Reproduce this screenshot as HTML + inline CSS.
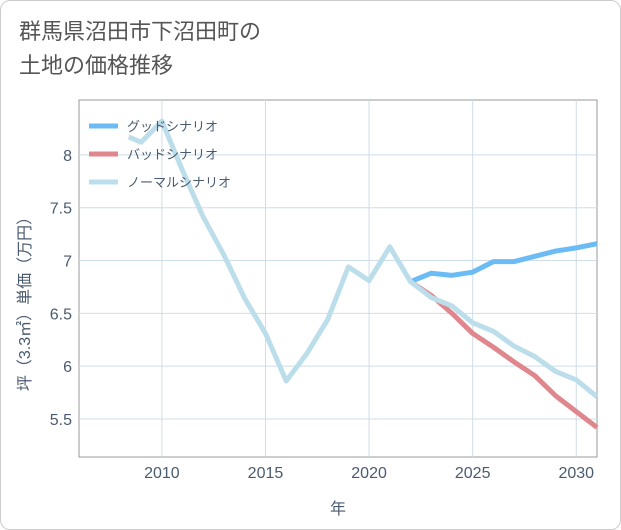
<!DOCTYPE html>
<html><head><meta charset="utf-8"><style>
body{margin:0;background:#fff;font-family:"Liberation Sans","Noto Sans CJK JP",sans-serif;}
#wrap{position:relative;width:619px;height:528px;border:1px solid #ccc;border-radius:10px;overflow:hidden;}
#title{position:absolute;left:18px;top:14px;font-size:22px;line-height:34px;color:#555;}
</style></head><body>
<div id="wrap">
<div id="title">群馬県沼田市下沼田町の<br>土地の価格推移</div>
<svg id="chart" width="621" height="530" style="position:absolute;left:-1px;top:-1px"></svg>
</div>
<script>
const years=[2008.4,2009,2010,2011,2012,2013,2014,2015,2016,2017,2018,2019,2020,2021,2022,2023,2024,2025,2026,2027,2028,2029,2030,2031];
const normal=[8.17,8.12,8.32,7.85,7.41,7.05,6.64,6.31,5.86,6.12,6.44,6.94,6.81,7.13,6.8,6.65,6.57,6.41,6.33,6.19,6.09,5.95,5.87,5.71];
const futureYears=[2022,2023,2024,2025,2026,2027,2028,2029,2030,2031];
const good=[6.8,6.88,6.86,6.89,6.99,6.99,7.04,7.09,7.12,7.16];
const bad=[6.8,6.67,6.5,6.31,6.18,6.04,5.91,5.72,5.57,5.42];
const xTicks=[2010,2015,2020,2025,2030];
const yTicks=[5.5,6,6.5,7,7.5,8];
const X0=79,X1=597,Y0=100,Y1=457,XMIN=2006,XMAX=2031,YMIN=5.14,YMAX=8.52;
const sx=v=>X0+(v-XMIN)/(XMAX-XMIN)*(X1-X0);
const sy=v=>Y1-(v-YMIN)/(YMAX-YMIN)*(Y1-Y0);
const svg=document.getElementById('chart');const NS='http://www.w3.org/2000/svg';
function mk(t,a){const e=document.createElementNS(NS,t);for(const k in a)e.setAttribute(k,a[k]);svg.appendChild(e);return e;}
let e=mk('rect',{x:X0,y:Y0,width:X1-X0,height:Y1-Y0,fill:'none',stroke:'#999','stroke-width':1});


xTicks.forEach(t=>{let g=mk('line',{x1:sx(t),x2:sx(t),y1:Y0,y2:Y1,stroke:'#cfdde8'});


let l=mk('text',{x:sx(t),y:478,'text-anchor':'middle','font-size':16,fill:'#4a5a70'});l.textContent=t;

});
yTicks.forEach(t=>{let g=mk('line',{x1:X0,x2:X1,y1:sy(t),y2:sy(t),stroke:'#cfdde8'});


let l=mk('text',{x:72,y:sy(t)+6,'text-anchor':'end','font-size':16,fill:'#4a5a70'});l.textContent=t;

});
let xt=mk('text',{x:338,y:514,'text-anchor':'middle','font-size':16,fill:'#4a5a70'});xt.textContent='年';


let yt=mk('text',{x:0,y:0,'text-anchor':'middle','font-size':16,fill:'#4a5a70',transform:'translate(30,300) rotate(-90)'});yt.textContent='坪（3.3㎡）単価（万円）';


function line(xs,vs,c,name){const d=xs.map((x,i)=>(i?'L':'M')+sx(x)+','+sy(vs[i])).join(' ');
let p=mk('path',{d:d,fill:'none',stroke:c,'stroke-width':5,'stroke-linejoin':'round'});

}
line(futureYears,bad,'#e0878e','bad-scenario-line');
line(futureYears,good,'#6bbcf5','good-scenario-line');
line(years,normal,'#bcdeeb','normal-scenario-line');
[['グッドシナリオ','#6bbcf5'],['バッドシナリオ','#e0878e'],['ノーマルシナリオ','#bcdeeb']].forEach((s,i)=>{const y=126+i*28;
let r=mk('line',{x1:89,x2:118,y1:y,y2:y,stroke:s[1],'stroke-width':5});


let t=mk('text',{x:127,y:y+5,'font-size':13,fill:'#4a5a70'});t.textContent=s[0];

});
</script>
</body></html>
